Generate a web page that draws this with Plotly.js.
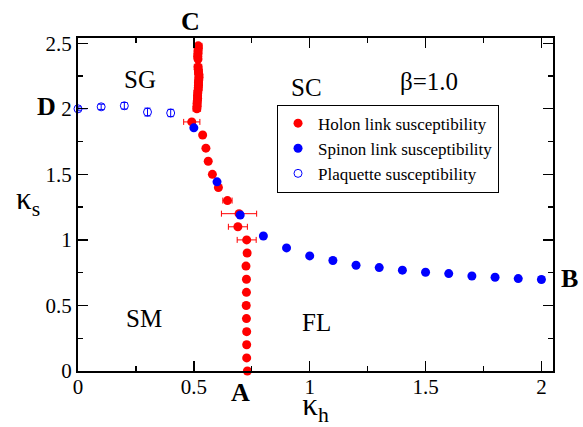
<!DOCTYPE html>
<html>
<head>
<meta charset="utf-8">
<script src="https://cdn.plot.ly/plotly-3.0.1.min.js"></script>
<style>html,body{margin:0;padding:0;background:#fff;}#plot{width:583px;height:427px;}</style>
</head>
<body>
<div id="plot"></div>
<script>
// Holon link susceptibility (red, filled)
const holonX = [0.731, 0.728, 0.728, 0.728, 0.727, 0.726, 0.727, 0.727, 0.725, 0.730,
                0.728, 0.690, 0.695, 0.645, 0.606, 0.580, 0.562, 0.552, 0.538, 0.491,
                0.513, 0.514, 0.514, 0.515, 0.516, 0.516, 0.517, 0.518, 0.519, 0.520,
                0.520, 0.521, 0.522, 0.522, 0.520, 0.519, 0.518, 0.518, 0.517, 0.518,
                0.518, 0.519, 0.519];
const holonY = [0.0, 0.1, 0.2, 0.3, 0.4, 0.5, 0.6, 0.7, 0.8, 0.9,
                1.0, 1.1, 1.2, 1.3, 1.4, 1.5, 1.6, 1.7, 1.8, 1.9,
                2.00, 2.02, 2.04, 2.06, 2.08, 2.10, 2.12, 2.14, 2.16, 2.18,
                2.20, 2.22, 2.24, 2.26, 2.28, 2.30, 2.32, 2.38, 2.40, 2.42,
                2.44, 2.46, 2.48];
const holonXErr = [0.012, 0.010, 0.012, 0.012, 0.010, 0.012, 0.008, 0.008, 0.012, 0.010,
                   0.041, 0.041, 0.076, 0.020, 0.008, 0.008, 0.006, 0.006, 0.006, 0.035,
                   0.016, 0.012, 0.016, 0.012, 0.016, 0.012, 0.016, 0.012, 0.016, 0.012,
                   0.016, 0.012, 0.016, 0.012, 0.016, 0.012, 0.016, 0.012, 0.016, 0.012,
                   0.016, 0.012, 0.016];

// Spinon link susceptibility (blue, filled)
const spinonX = [0.5, 0.6, 0.7, 0.8, 0.9, 1.0, 1.1, 1.2, 1.3, 1.4, 1.5, 1.6, 1.7, 1.8, 1.9, 2.0];
const spinonY = [1.855, 1.443, 1.19, 1.03, 0.939, 0.878, 0.843, 0.807, 0.789, 0.769, 0.753, 0.743, 0.725, 0.715, 0.705, 0.698];
const spinonYErr = [0.01, 0.01, 0.01, 0.01, 0.015, 0.01, 0.01, 0.01, 0.01, 0.02, 0.01, 0.01, 0.01, 0.01, 0.01, 0.02];

// Plaquette susceptibility (blue, open)
const plaqX = [0.0, 0.1, 0.2, 0.3, 0.4];
const plaqY = [2.0, 2.015, 2.023, 1.975, 1.968];
const plaqYErr = [0.015, 0.02, 0.025, 0.03, 0.028];
const plaqXErr = [0.04, 0, 0, 0, 0];

const xTicks = [0, 0.5, 1, 1.5, 2];
const xTickText = ['0', '0.5', '1', '1.5', '2'];
const yTicks = [0, 0.5, 1, 1.5, 2, 2.5];
const yTickText = ['0', '0.5', '1', '1.5', '2', '2.5'];

const serif = 'Liberation Serif, Times New Roman, serif';

const traces = [
  {
    type: 'scatter', mode: 'markers', name: 'Holon link susceptibility',
    x: holonX, y: holonY,
    marker: {color: '#ff0000', size: 9, symbol: 'circle'},
    error_x: {type: 'data', array: holonXErr, visible: true, color: '#ff0000', thickness: 1, width: 3},
    cliponaxis: false
  },
  {
    type: 'scatter', mode: 'markers', name: 'Spinon link susceptibility',
    x: spinonX, y: spinonY,
    marker: {color: '#0000ff', size: 9, symbol: 'circle'},
    error_y: {type: 'data', array: spinonYErr, visible: true, color: '#0000ff', thickness: 1, width: 3},
    cliponaxis: false
  },
  {
    type: 'scatter', mode: 'markers', name: 'Plaquette susceptibility',
    x: plaqX, y: plaqY,
    marker: {color: '#0000ff', size: 8, symbol: 'circle-open', line: {width: 1, color: '#0000ff'}},
    error_y: {type: 'data', array: plaqYErr, visible: true, color: '#0000ff', thickness: 1, width: 3},
    error_x: {type: 'data', array: plaqXErr, visible: true, color: '#0000ff', thickness: 1, width: 0},
    cliponaxis: false
  }
];

const axisCommon = {
  showgrid: false, zeroline: false,
  showline: true, linecolor: '#000', linewidth: 2, mirror: 'allticks',
  ticks: 'inside', ticklen: 10, tickwidth: 1.3, tickcolor: '#000',
  tickfont: {family: serif, size: 21, color: '#000'},
  minor: {ticks: 'inside', ticklen: 5, tickwidth: 1.3, tickcolor: '#000', dtick: 0.25}
};

const ann = (x, y, text, size, bold, ref) => ({
  x: x, y: y, xref: ref ? 'paper' : 'x', yref: ref ? 'paper' : 'y',
  text: bold ? '<b>' + text + '</b>' : text,
  showarrow: false, xanchor: 'center', yanchor: 'middle',
  font: {family: serif, size: size, color: '#000'}
});

const layout = {
  width: 583, height: 427,
  margin: {l: 78, r: 30, t: 38, b: 56},
  paper_bgcolor: '#fff', plot_bgcolor: '#fff',
  showlegend: true,
  legend: {
    x: 0.419, y: 0.80, xanchor: 'left', yanchor: 'top',
    bgcolor: '#fff', bordercolor: '#000', borderwidth: 1,
    font: {family: serif, size: 17, color: '#000'},
    itemwidth: 30, tracegroupgap: 0
  },
  xaxis: Object.assign({}, axisCommon, {
    range: [0, 2.05], tickvals: xTicks, ticktext: xTickText, ticklabelstandoff: -4,
    title: {text: 'κ<sub>h</sub>', font: {family: serif, size: 31, color: '#000'}, standoff: 7}
  }),
  yaxis: Object.assign({}, axisCommon, {
    range: [0, 2.54], tickvals: yTicks, ticktext: yTickText
  }),
  annotations: [
    ann(0.2361, 1.049, 'C', 26, true, true),
    ann(-0.0666, 0.7957, 'D', 26, true, true),
    ann(0.3412, -0.066, 'A', 26, true, true),
    ann(1.035, 0.2786, 'B', 26, true, true),
    ann(0.266, 2.221, 'SG', 25, false),
    ann(0.984, 2.166, 'SC', 25, false),
    ann(1.515, 2.211, 'β=1.0', 25, false),
    ann(0.286, 0.402, 'SM', 25, false),
    ann(1.031, 0.368, 'FL', 25, false),
    ann(-0.1045, 0.51, 'κ<sub>s</sub>', 31, false, true)
  ]
};

Plotly.newPlot('plot', traces, layout, {staticPlot: true, displayModeBar: false});
</script>
</body>
</html>
